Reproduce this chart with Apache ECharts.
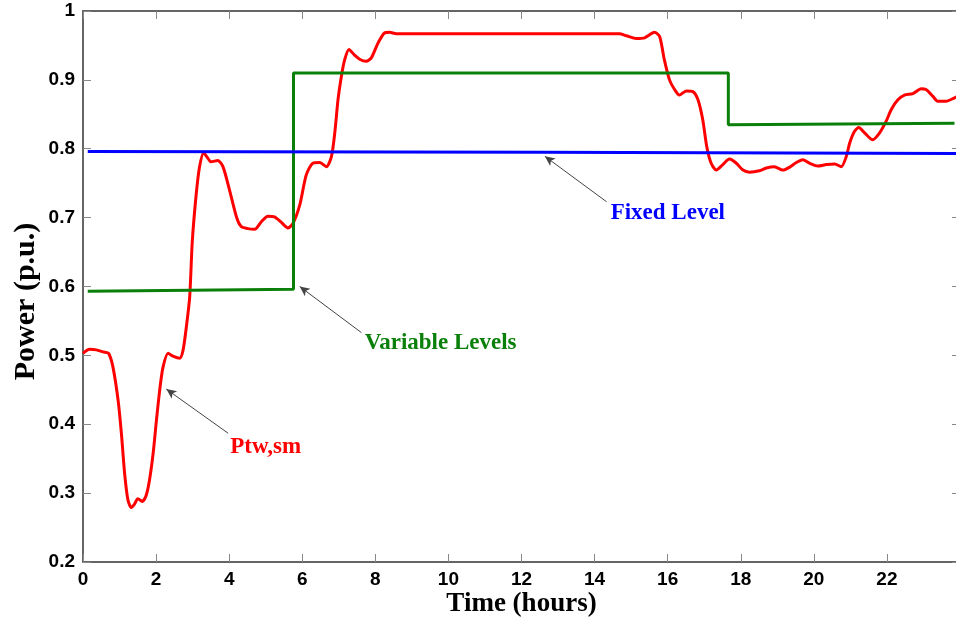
<!DOCTYPE html>
<html>
<head>
<meta charset="utf-8">
<script src="https://cdn.jsdelivr.net/npm/echarts@6/dist/echarts.min.js"></script>
<style>
  html, body { margin: 0; padding: 0; background: #fff; }
  #chart { width: 956px; height: 619px; }
</style>
</head>
<body>
<div id="chart"></div>
<script>
// Smoothed tidal/wind power profile over one day (hours, p.u.)
const timeP = [0.00, 0.18, 0.37, 0.55, 0.70, 0.82, 0.96, 1.05, 1.14, 1.23, 1.32, 1.41, 1.50, 1.62, 1.73,
  1.82, 1.92, 2.01, 2.10, 2.19, 2.33, 2.46, 2.65, 2.74, 2.83, 2.92, 2.99, 3.10, 3.19, 3.30, 3.42, 3.50,
  3.69, 3.83, 4.01, 4.20, 4.33, 4.51, 4.70, 4.88, 5.06, 5.24, 5.43, 5.61, 5.75, 5.93, 6.11, 6.29, 6.48,
  6.66, 6.80, 6.89, 6.98, 7.07, 7.16, 7.28, 7.43, 7.57, 7.75, 7.89, 8.07, 8.25, 8.39, 8.57, 10.0, 12.0,
  14.0, 14.68, 14.87, 15.14, 15.37, 15.64, 15.78, 15.91, 16.05, 16.19, 16.32, 16.51, 16.69, 16.83, 16.96,
  17.07, 17.19, 17.33, 17.51, 17.69, 17.88, 18.06, 18.24, 18.51, 18.70, 18.92, 19.15, 19.33, 19.52, 19.70,
  19.88, 20.11, 20.34, 20.57, 20.75, 20.89, 20.98, 21.11, 21.23, 21.39, 21.61, 21.80, 21.98, 22.12, 22.30,
  22.48, 22.71, 22.94, 23.07, 23.26, 23.39, 23.62, 23.85, 24.0];
const powerP = [0.503, 0.509, 0.508, 0.505, 0.503, 0.483, 0.435, 0.387, 0.328, 0.290, 0.279, 0.284, 0.292, 0.288, 0.297,
  0.319, 0.358, 0.406, 0.450, 0.483, 0.503, 0.499, 0.496, 0.508, 0.542, 0.585, 0.665, 0.735, 0.774, 0.794, 0.786, 0.781,
  0.783, 0.774, 0.740, 0.701, 0.687, 0.684, 0.683, 0.694, 0.702, 0.701, 0.693, 0.685, 0.692, 0.718, 0.762, 0.779, 0.780,
  0.774, 0.789, 0.823, 0.872, 0.905, 0.929, 0.944, 0.936, 0.930, 0.927, 0.932, 0.953, 0.968, 0.969, 0.967, 0.967, 0.967,
  0.967, 0.967, 0.964, 0.960, 0.961, 0.969, 0.963, 0.929, 0.900, 0.886, 0.878, 0.884, 0.883, 0.871, 0.842,
  0.803, 0.779, 0.769, 0.777, 0.785, 0.779, 0.769, 0.766, 0.768, 0.772, 0.774, 0.769, 0.773, 0.780, 0.784,
  0.779, 0.775, 0.777, 0.778, 0.774, 0.789, 0.808, 0.825, 0.831, 0.823, 0.813, 0.823, 0.840, 0.857, 0.871,
  0.878, 0.880, 0.887, 0.886, 0.876, 0.869, 0.869, 0.874, 0.877];

// Variable (stepped) levels
const timeVar = [0.13, 5.76, 5.76, 17.66, 17.66, 23.85];
const levelVar = [0.593, 0.596, 0.910, 0.910, 0.835, 0.837];

// Fixed level
const timeFix = [0.13, 12.6, 24.0];
const levelFix = [0.796, 0.795, 0.793];

// Axis ticks
const xTicks = { min: 0, max: 24, step: 2 };
const yTicks = { min: 0.2, max: 1, step: 0.1 };

// Annotation labels: [text, label anchor, arrow tail, arrow tip]
const noteP   = ['Ptw,sm',          [4.03, 0.367], [3.97, 0.387], [2.28, 0.451]];
const noteVar = ['Variable Levels', [7.71, 0.518], [7.62, 0.533], [5.93, 0.600]];
const noteFix = ['Fixed Level',     [14.44, 0.707], [14.33, 0.723], [12.64, 0.789]];

const zip = (xs, ys) => xs.map((x, i) => [x, ys[i]]);

const serifBold = { fontFamily: 'Liberation Serif', fontWeight: 'bold' };
const tickFont = { fontFamily: 'Liberation Sans', fontWeight: 'bold', fontSize: 19, color: '#000' };

function annotate(note, color) {
  return {
    markPoint: {
      silent: true,
      symbol: 'circle',
      symbolSize: 0,
      animation: false,
      label: {
        show: true, position: 'right', distance: 0,
        formatter: note[0], color: color, fontSize: 23, ...serifBold
      },
      data: [{ coord: note[1] }]
    },
    markLine: {
      silent: true,
      animation: false,
      symbol: ['none', 'arrow'],
      symbolSize: [7, 10],
      lineStyle: { color: '#444', width: 1, type: 'solid' },
      label: { show: false },
      data: [[{ coord: note[2] }, { coord: note[3] }]]
    }
  };
}

const chart = echarts.init(document.getElementById('chart'), null, { renderer: 'canvas' });

const axisLineStyle = { color: '#333', width: 1.5 };
const tickStyle = { color: '#888', width: 1 };

chart.setOption({
  animation: false,
  backgroundColor: '#fff',
  grid: { left: 83, right: -4, top: 11, bottom: 57, containLabel: false, outerBoundsMode: 'none' },
  xAxis: [
    {
      type: 'value', min: xTicks.min, max: xTicks.max, interval: xTicks.step,
      position: 'bottom',
      axisLine: { show: true, onZero: false, lineStyle: axisLineStyle },
      axisTick: { show: true, inside: true, length: 8, lineStyle: tickStyle },
      axisLabel: { ...tickFont, margin: 8, showMaxLabel: false },
      splitLine: { show: false },
      name: 'Time (hours)', nameLocation: 'middle', nameGap: 29, nameMoveOverlap: false,
      nameTextStyle: { ...serifBold, fontSize: 27, color: '#000' }
    },
    {
      type: 'value', min: xTicks.min, max: xTicks.max, interval: xTicks.step,
      position: 'top',
      axisLine: { show: true, onZero: false, lineStyle: axisLineStyle },
      axisTick: { show: true, inside: true, length: 8, lineStyle: tickStyle },
      axisLabel: { show: false },
      splitLine: { show: false }
    }
  ],
  yAxis: [
    {
      type: 'value', min: yTicks.min, max: yTicks.max, interval: yTicks.step,
      position: 'left',
      axisLine: { show: true, onZero: false, lineStyle: axisLineStyle },
      axisTick: { show: true, inside: true, length: 8, lineStyle: tickStyle },
      axisLabel: { ...tickFont, margin: 8 },
      splitLine: { show: false },
      name: 'Power (p.u.)', nameLocation: 'middle', nameGap: 42, nameMoveOverlap: false,
      nameTextStyle: { ...serifBold, fontSize: 30, color: '#000', padding: [0, 30, 0, 0] }
    },
    {
      type: 'value', min: yTicks.min, max: yTicks.max, interval: yTicks.step,
      position: 'right',
      axisLine: { show: true, onZero: false, lineStyle: axisLineStyle },
      axisTick: { show: true, inside: true, length: 8, lineStyle: tickStyle },
      axisLabel: { show: false },
      splitLine: { show: false }
    }
  ],
  series: [
    Object.assign({
      name: 'Ptw,sm',
      type: 'line',
      data: zip(timeP, powerP),
      smooth: 0.25,
      showSymbol: false,
      lineStyle: { color: '#ff0000', width: 3 },
      itemStyle: { color: '#ff0000' },
      z: 2
    }, annotate(noteP, '#ff0000')),
    Object.assign({
      name: 'Variable Levels',
      type: 'line',
      data: zip(timeVar, levelVar),
      showSymbol: false,
      lineStyle: { color: '#0a800a', width: 3 },
      itemStyle: { color: '#0a800a' },
      z: 3
    }, annotate(noteVar, '#0a800a')),
    Object.assign({
      name: 'Fixed Level',
      type: 'line',
      data: zip(timeFix, levelFix),
      showSymbol: false,
      lineStyle: { color: '#0000ff', width: 3 },
      itemStyle: { color: '#0000ff' },
      z: 4
    }, annotate(noteFix, '#0000ff'))
  ]
});
</script>
</body>
</html>
